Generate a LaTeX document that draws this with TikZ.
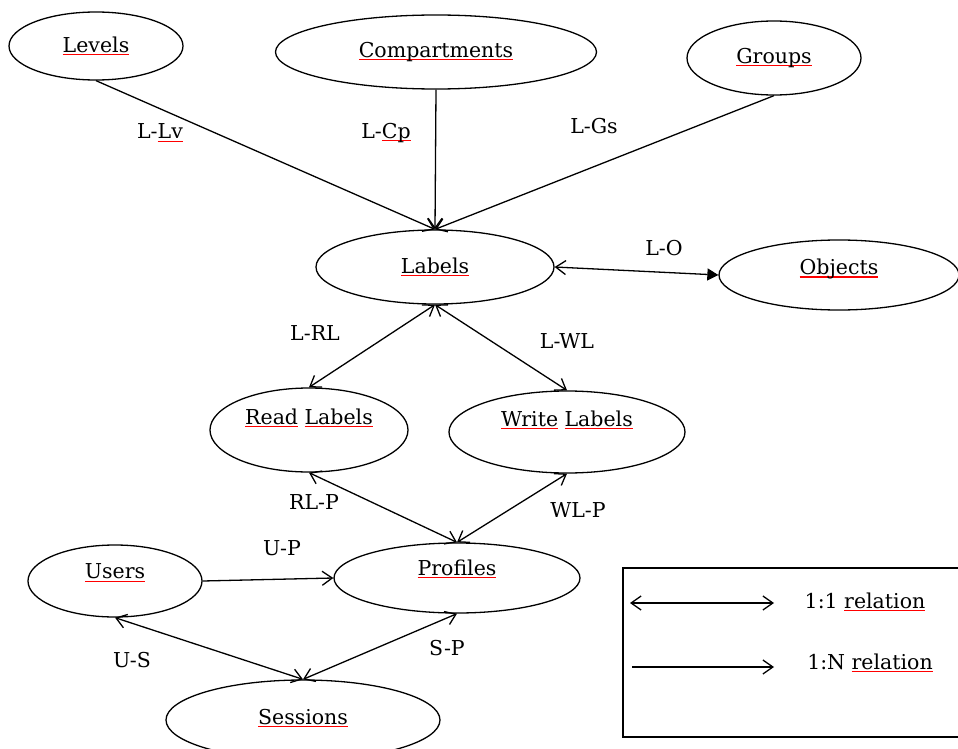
\documentclass[tikz,border=0pt]{standalone}
\usepackage{fontspec}
\setmainfont{DejaVu Serif}
\usetikzlibrary{shapes.geometric,arrows.meta}
% red spell-check style underline below a word
\newcommand\sq[1]{\leavevmode\setbox0\hbox{#1}\rlap{\color{red}\rule[-3pt]{\wd0}{1.3pt}}\box0\relax}
% lift a caption inside its ellipse without changing the ellipse
\newcommand\lift[2]{\raisebox{#1}[\height][\depth]{#2}}
\tikzset{
  ent/.style={draw, ellipse, line width=1.3pt, inner sep=0pt, font=\fontsize{20.5}{24}\selectfont},
  rel/.style={font=\fontsize{20.5}{24}\selectfont, inner sep=0pt},
  barb/.tip={Straight Barb[length=10pt,width=14pt,line width=1.3pt]},
  one/.style={line width=1.3pt, -barb},
  both/.style={line width=1.3pt, barb-barb},
}
\begin{document}
\begin{tikzpicture}[x=1pt,y=-1pt]
\useasboundingbox (0,0) rectangle (958,749);
\clip (0,0) rectangle (958,749);
\fill[white] (0,0) rectangle (958,749);

% entities
\node[ent, minimum width=174, minimum height=68] (lev) at (96,46) {\sq{Levels}};
\node[ent, minimum width=321, minimum height=74] (cmp) at (436,52) {\sq{Compartments}};
\node[ent, minimum width=174, minimum height=74] (grp) at (774,58) {\sq{Groups}};
\node[ent, minimum width=238, minimum height=74] (lab) at (435,267) {\sq{Labels}};
\node[ent, minimum width=240, minimum height=70] (obj) at (839,275) {\lift{6pt}{\sq{Objects}}};
\node[ent, minimum width=198, minimum height=84] (rl) at (309,430) {\lift{12pt}{\sq{Read} \sq{Labels}}};
\node[ent, minimum width=236, minimum height=82] (wl) at (567,432) {\lift{12pt}{\sq{Write} \sq{Labels}}};
\node[ent, minimum width=174, minimum height=72] (usr) at (115,581) {\lift{8pt}{\sq{Users}}};
\node[ent, minimum width=246, minimum height=70] (prof) at (457,578) {\lift{9pt}{\sq{Profiles}}};
\node[ent, minimum width=274, minimum height=80] (ses) at (303,720) {\lift{2pt}{\sq{Sessions}}};

% relations
\draw[one] (lev.south) -- (lab.north);
\draw[one] (cmp.south) -- (lab.north);
\draw[one] (grp.south) -- (lab.north);
\draw[line width=1.3pt, barb-{Triangle[length=11pt,width=12pt]}] (lab.east) -- (obj.west);
\draw[both] (lab.south) -- (rl.north);
\draw[both] (lab.south) -- (wl.north);
\draw[both] (rl.south) -- (prof.north);
\draw[both] (wl.south) -- (prof.north);
\draw[one] (usr.east) -- (prof.west);
\draw[both] (usr.south) -- (ses.north);
\draw[both] (prof.south) -- (ses.north);

% relation names
\node[rel] (tLv) at (160,133) {L-\sq{Lv}};
\node[rel] (tCp) at (386,133) {L-\sq{Cp}};
\node[rel] (tGs) at (594,126) {L-Gs};
\node[rel] (tO) at (664,248) {L-O};
\node[rel] (tRL) at (315,333) {L-RL};
\node[rel] (tWL) at (567,341) {L-WL};
\node[rel] (tRP) at (314,502) {RL-P};
\node[rel] (tWP) at (578,510) {WL-P};
\node[rel] (tUP) at (282,548) {U-P};
\node[rel] (tUS) at (132,660) {U-S};
\node[rel] (tSP) at (447,648) {S-P};

% legend
\draw[line width=1.3pt] (623,568) rectangle (970,737);
\coordinate (a1) at (630,603);
\coordinate (b1) at (774,603);
\coordinate (a2) at (632,667);
\coordinate (b2) at (774,667);
\draw[both] (a1) -- (b1);
\draw[one] (a2) -- (b2);
\node[rel] (k1) at (865,602) {1:1 \sq{relation}};
\node[rel] (k2) at (870,663) {1:N \sq{relation}};
\end{tikzpicture}
\end{document}
